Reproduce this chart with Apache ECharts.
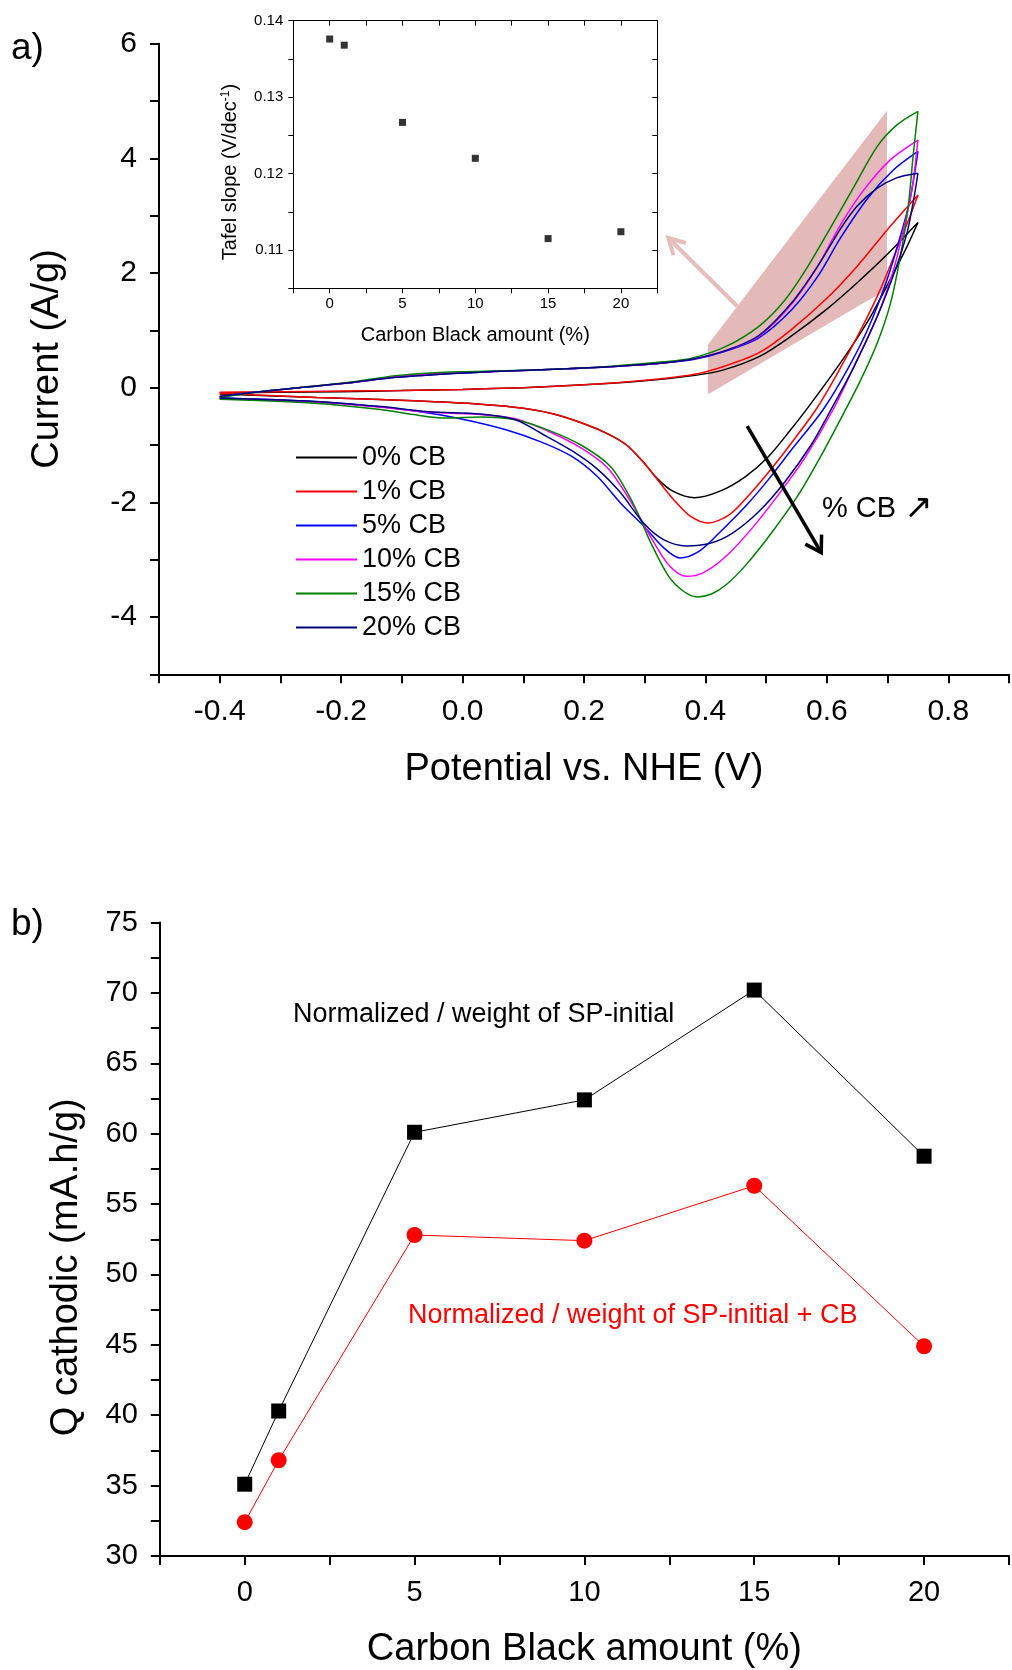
<!DOCTYPE html>
<html><head><meta charset="utf-8">
<script src="https://cdn.jsdelivr.net/npm/echarts@6.0.0/dist/echarts.min.js"></script>
<style>html,body{margin:0;padding:0;background:#fff;}#c{width:1012px;height:1670px;}</style>
</head><body><div id="c"></div>
<script>
// ---------- Panel a: CV curves (potential V, current A/g) ----------
const seriesNames = ['0% CB','1% CB','5% CB','10% CB','15% CB','20% CB'];
const seriesColors = ['#000000','#ff0000','#0000ff','#ff00ff','#008000','#000080'];

const cb0Fwd = [[-0.40,-0.09],[-0.30,-0.08],[-0.20,-0.07],[-0.10,-0.05],[0.00,-0.03],[0.10,0.00],[0.20,0.05],[0.30,0.12],[0.38,0.21],[0.43,0.31],[0.49,0.55],[0.54,0.89],[0.60,1.37],[0.65,1.83],[0.70,2.33],[0.75,2.88]];
const cb0Rev = [[0.75,2.88],[0.732,2.46],[0.704,1.88],[0.672,1.24],[0.634,0.61],[0.60,0.10],[0.57,-0.33],[0.54,-0.74],[0.504,-1.20],[0.466,-1.55],[0.423,-1.81],[0.382,-1.92],[0.347,-1.81],[0.322,-1.60],[0.298,-1.30],[0.27,-1.00],[0.24,-0.81],[0.20,-0.63],[0.15,-0.46],[0.10,-0.36],[0.03,-0.29],[-0.08,-0.23],[-0.24,-0.17],[-0.40,-0.11]];

const cb1Fwd = [[-0.40,-0.08],[-0.30,-0.07],[-0.20,-0.06],[-0.10,-0.05],[0.00,-0.03],[0.10,0.00],[0.20,0.05],[0.30,0.13],[0.38,0.23],[0.43,0.37],[0.49,0.62],[0.54,1.00],[0.60,1.56],[0.65,2.12],[0.70,2.76],[0.75,3.36]];
const cb1Rev = [[0.75,3.36],[0.737,2.99],[0.715,2.41],[0.688,1.71],[0.656,1.01],[0.62,0.30],[0.584,-0.35],[0.542,-0.96],[0.509,-1.41],[0.477,-1.81],[0.439,-2.22],[0.404,-2.36],[0.375,-2.24],[0.35,-1.98],[0.325,-1.66],[0.298,-1.30],[0.27,-1.00],[0.24,-0.81],[0.20,-0.63],[0.15,-0.46],[0.10,-0.36],[0.03,-0.29],[-0.08,-0.23],[-0.24,-0.17],[-0.40,-0.10]];

const cb5Fwd = [[-0.40,-0.16],[-0.35,-0.09],[-0.27,0.00],[-0.19,0.08],[-0.11,0.18],[-0.03,0.24],[0.05,0.28],[0.17,0.33],[0.25,0.37],[0.33,0.43],[0.38,0.49],[0.434,0.64],[0.488,0.87],[0.542,1.36],[0.585,1.94],[0.623,2.62],[0.667,3.30],[0.71,3.80],[0.75,4.12]];
const cb5Rev = [[0.75,4.12],[0.737,3.28],[0.721,2.64],[0.699,1.88],[0.667,1.01],[0.634,0.32],[0.594,-0.38],[0.542,-1.08],[0.504,-1.60],[0.466,-2.07],[0.423,-2.53],[0.39,-2.85],[0.358,-2.97],[0.331,-2.79],[0.298,-2.41],[0.26,-2.01],[0.222,-1.55],[0.18,-1.20],[0.13,-0.95],[0.07,-0.73],[0.00,-0.55],[-0.07,-0.42],[-0.14,-0.33],[-0.244,-0.24],[-0.40,-0.18]];

const cb10Fwd = [[-0.40,-0.16],[-0.35,-0.09],[-0.27,0.00],[-0.19,0.08],[-0.11,0.19],[-0.03,0.25],[0.05,0.28],[0.17,0.33],[0.25,0.37],[0.33,0.43],[0.38,0.50],[0.434,0.65],[0.488,0.90],[0.542,1.46],[0.585,2.12],[0.623,2.85],[0.661,3.45],[0.704,3.97],[0.75,4.32]];
const cb10Rev = [[0.75,4.32],[0.74,3.45],[0.726,2.75],[0.71,2.06],[0.683,1.24],[0.65,0.49],[0.612,-0.35],[0.564,-1.22],[0.52,-1.87],[0.477,-2.45],[0.434,-2.94],[0.396,-3.23],[0.369,-3.29],[0.341,-3.11],[0.314,-2.68],[0.276,-1.97],[0.239,-1.40],[0.195,-1.05],[0.141,-0.76],[0.087,-0.54],[0.03,-0.47],[-0.054,-0.43],[-0.135,-0.34],[-0.244,-0.25],[-0.40,-0.19]];

const cb15Fwd = [[-0.40,-0.18],[-0.35,-0.09],[-0.27,0.00],[-0.19,0.09],[-0.11,0.21],[-0.03,0.27],[0.05,0.29],[0.17,0.33],[0.25,0.38],[0.33,0.45],[0.379,0.52],[0.434,0.72],[0.488,1.07],[0.531,1.53],[0.569,2.12],[0.607,2.81],[0.645,3.51],[0.683,4.21],[0.715,4.58],[0.75,4.82]];
const cb15Rev = [[0.75,4.82],[0.742,4.03],[0.734,3.16],[0.721,2.29],[0.705,1.48],[0.683,0.78],[0.656,0.14],[0.631,-0.38],[0.596,-1.08],[0.553,-1.87],[0.509,-2.53],[0.466,-3.10],[0.435,-3.43],[0.41,-3.60],[0.387,-3.65],[0.365,-3.56],[0.34,-3.30],[0.312,-2.75],[0.28,-2.00],[0.244,-1.38],[0.195,-1.00],[0.141,-0.74],[0.087,-0.56],[0.03,-0.51],[-0.027,-0.53],[-0.081,-0.47],[-0.135,-0.38],[-0.244,-0.27],[-0.40,-0.20]];

const cb20Fwd = [[-0.40,-0.15],[-0.35,-0.09],[-0.27,0.00],[-0.19,0.08],[-0.11,0.18],[-0.03,0.24],[0.05,0.28],[0.17,0.33],[0.25,0.37],[0.33,0.43],[0.38,0.50],[0.434,0.65],[0.488,0.91],[0.542,1.48],[0.585,2.12],[0.623,2.78],[0.65,3.17],[0.683,3.48],[0.715,3.66],[0.75,3.74]];
const cb20Rev = [[0.75,3.74],[0.743,3.28],[0.732,2.70],[0.713,2.06],[0.683,1.24],[0.645,0.37],[0.607,-0.38],[0.574,-1.00],[0.531,-1.64],[0.488,-2.16],[0.444,-2.54],[0.406,-2.72],[0.369,-2.76],[0.331,-2.65],[0.298,-2.36],[0.26,-1.83],[0.222,-1.42],[0.18,-1.10],[0.13,-0.80],[0.087,-0.56],[0.03,-0.46],[-0.054,-0.42],[-0.135,-0.33],[-0.244,-0.24],[-0.40,-0.18]];

const forwardSweeps = [cb0Fwd, cb1Fwd, cb5Fwd, cb10Fwd, cb15Fwd, cb20Fwd];
const reverseSweeps = [cb0Rev, cb1Rev, cb5Rev, cb10Rev, cb15Rev, cb20Rev];

// highlighted region (potential, current)
const pinkX = [0.404, 0.699, 0.699, 0.661, 0.404];
const pinkY = [0.75, 4.83, 1.71, 1.48, -0.12];
// arrows [x1, y1, x2, y2] in data units
const pinkArrow = [0.4525, 1.42, 0.339, 2.61];
const cbArrow = [0.4688, -0.672, 0.5907, -2.878];

// ---------- Inset: Tafel slope ----------
const tafelCB = [0, 1, 5, 10, 15, 20];
const tafelSlope = [0.1376, 0.1368, 0.1267, 0.1220, 0.1115, 0.1124];

// ---------- Panel b: Q cathodic ----------
const cbAmount = [0, 1, 5, 10, 15, 20];
const qSP = [35.1, 40.3, 60.1, 62.4, 70.2, 58.4];
const qSPCB = [32.4, 36.8, 52.8, 52.4, 56.3, 44.9];

const FF = "'Liberation Sans', Arial, 'DejaVu Sans', sans-serif";

function fmtMainX(v){ const k = Math.round(v*10); return (k % 2 === 0 && k >= -4 && k <= 8) ? (k/10).toFixed(1) : ''; }
function fmtMainY(v){ const k = Math.round(v); return (k % 2 === 0 && k >= -4) ? String(k) : ''; }
function fmtCB(v){ const k = Math.round(v*10); return (k % 50 === 0 && k >= 0 && k <= 200) ? String(k/10) : ''; }
function fmtTafel(v){ const k = Math.round(v*1000); return (k % 10 === 0) ? (k/1000).toFixed(2) : ''; }
function fmtQ(v){ const k = Math.round(v*10); return (k % 50 === 0) ? String(k/10) : ''; }

function arrowRender(color, width, head, half){
  return function(params, api){
    const p1 = api.coord([api.value(0), api.value(1)]);
    const p2 = api.coord([api.value(2), api.value(3)]);
    const ang = Math.atan2(p2[1]-p1[1], p2[0]-p1[0]);
    const a1 = ang + Math.PI - half, a2 = ang + Math.PI + half;
    const h1 = [p2[0]+head*Math.cos(a1), p2[1]+head*Math.sin(a1)];
    const h2 = [p2[0]+head*Math.cos(a2), p2[1]+head*Math.sin(a2)];
    return {type:'group', children:[
      {type:'line', shape:{x1:p1[0],y1:p1[1],x2:p2[0],y2:p2[1]}, style:{stroke:color, lineWidth:width}},
      {type:'polyline', shape:{points:[h1,p2,h2]}, style:{stroke:color, lineWidth:width, fill:null}}
    ]};
  };
}

const series = [];
series.push({
  type:'custom', xAxisIndex:0, yAxisIndex:0, z:1, silent:true,
  data:[[pinkX[0], pinkY[0]]],
  renderItem:function(params, api){
    const pts = pinkX.map((x,i)=>api.coord([x, pinkY[i]]));
    return {type:'polygon', shape:{points:pts}, style:{fill:'#e4b9b9'}};
  }
});
series.push({
  type:'custom', xAxisIndex:0, yAxisIndex:0, z:2, silent:true,
  data:[pinkArrow], encode:{x:[0,2], y:[1,3]},
  renderItem: arrowRender('#e6bcbc', 4, 18, 0.5)
});
seriesNames.forEach((nm, i) => {
  [forwardSweeps[i], reverseSweeps[i]].forEach(arr => {
    series.push({
      name:nm, type:'line', xAxisIndex:0, yAxisIndex:0, z:3,
      data:arr, smooth:0.3, symbol:'none',
      lineStyle:{color:seriesColors[i], width:1.5},
      itemStyle:{color:seriesColors[i]}
    });
  });
});
series.push({
  type:'custom', xAxisIndex:0, yAxisIndex:0, z:4, silent:true,
  data:[cbArrow], encode:{x:[0,2], y:[1,3]},
  renderItem: arrowRender('#000000', 3.5, 18, 0.55)
});
series.push({
  type:'scatter', xAxisIndex:1, yAxisIndex:1, symbol:'rect', symbolSize:7,
  itemStyle:{color:'#000'}, data: tafelCB.map((x,i)=>[x, tafelSlope[i]]), z:5
});
series.push({
  name:'Normalized / weight of SP-initial', type:'line', xAxisIndex:3, yAxisIndex:3,
  data: cbAmount.map((x,i)=>[x, qSP[i]]), symbol:'rect', symbolSize:15,
  lineStyle:{color:'#000', width:1}, itemStyle:{color:'#000'}
});
series.push({
  name:'Normalized / weight of SP-initial + CB', type:'line', xAxisIndex:3, yAxisIndex:3,
  data: cbAmount.map((x,i)=>[x, qSPCB[i]]), symbol:'circle', symbolSize:16,
  lineStyle:{color:'#ff0000', width:1}, itemStyle:{color:'#ff0000'}
});

const option = {
  animation:false,
  backgroundColor:'#fff',
  textStyle:{fontFamily:FF},
  grid:[
    {left:159, top:43.7, width:861.3, height:630.6},
    {left:293.3, top:20.7, width:364, height:267.6},
    {left:159.8, top:922.5, width:861.75, height:635}
  ],
  legend:{
    data:seriesNames, orient:'vertical', left:296, top:444, padding:0, icon:'rect',
    itemWidth:61, itemHeight:2, itemGap:7, selectedMode:false,
    textStyle:{fontSize:27, color:'#000', fontFamily:FF}
  },
  xAxis:[
    {gridIndex:0, type:'value', min:-0.5, max:0.9, interval:0.1,
     axisLine:{onZero:false, lineStyle:{color:'#000', width:2}},
     axisTick:{length:9, lineStyle:{color:'#000', width:2}},
     axisLabel:{formatter:fmtMainX, fontSize:30, color:'#000', margin:22, fontFamily:FF},
     splitLine:{show:false},
     name:'Potential vs. NHE (V)', nameLocation:'middle', nameGap:76,
     nameTextStyle:{fontSize:38, color:'#000', fontFamily:FF}},
    {gridIndex:1, type:'value', min:-2.5, max:22.5, interval:2.5,
     axisLine:{onZero:false, lineStyle:{color:'#000', width:1}},
     axisTick:{length:5, lineStyle:{color:'#000', width:1}},
     axisLabel:{formatter:fmtCB, fontSize:15, color:'#000', margin:8, fontFamily:FF},
     splitLine:{show:false},
     name:'Carbon Black amount (%)', nameLocation:'middle', nameGap:37,
     nameTextStyle:{fontSize:20, color:'#000', fontFamily:FF}},
    {gridIndex:1, type:'value', position:'top', min:-2.5, max:22.5, interval:2.5,
     axisLine:{onZero:false, lineStyle:{color:'#000', width:1}},
     axisTick:{inside:true, length:5, lineStyle:{color:'#000', width:1}},
     axisLabel:{show:false}, splitLine:{show:false}},
    {gridIndex:2, type:'value', min:-2.5, max:22.5, interval:2.5,
     axisLine:{onZero:false, lineStyle:{color:'#000', width:2}},
     axisTick:{length:9, lineStyle:{color:'#000', width:2}},
     axisLabel:{formatter:fmtCB, fontSize:29, color:'#000', margin:22, fontFamily:FF},
     splitLine:{show:false},
     name:'Carbon Black amount (%)', nameLocation:'middle', nameGap:75,
     nameTextStyle:{fontSize:38, color:'#000', fontFamily:FF}}
  ],
  yAxis:[
    {gridIndex:0, type:'value', min:-5, max:6, interval:1,
     axisLine:{onZero:false, lineStyle:{color:'#000', width:2}},
     axisTick:{length:9, lineStyle:{color:'#000', width:2}},
     axisLabel:{formatter:fmtMainY, fontSize:30, color:'#000', margin:22, fontFamily:FF},
     splitLine:{show:false},
     name:'Current (A/g)', nameLocation:'middle', nameGap:92,
     nameTextStyle:{fontSize:38, color:'#000', fontFamily:FF}},
    {gridIndex:1, type:'value', min:0.105, max:0.14, interval:0.005,
     axisLine:{onZero:false, lineStyle:{color:'#000', width:1}},
     axisTick:{length:5, lineStyle:{color:'#000', width:1}},
     axisLabel:{formatter:fmtTafel, fontSize:15, color:'#000', margin:10, fontFamily:FF},
     splitLine:{show:false},
     name:'{a|Tafel slope (V/dec}{s|-1}{a|)}', nameLocation:'middle', nameGap:52,
     nameTextStyle:{padding:[0,35,0,0], rich:{
       a:{fontSize:20, color:'#000', fontFamily:FF},
       s:{fontSize:12, color:'#000', fontFamily:FF, verticalAlign:'top', padding:[0,0,10,0]}
     }}},
    {gridIndex:1, type:'value', position:'right', min:0.105, max:0.14, interval:0.005,
     axisLine:{onZero:false, lineStyle:{color:'#000', width:1}},
     axisTick:{inside:true, length:5, lineStyle:{color:'#000', width:1}},
     axisLabel:{show:false}, splitLine:{show:false}},
    {gridIndex:2, type:'value', min:30, max:75, interval:2.5,
     axisLine:{onZero:false, lineStyle:{color:'#000', width:2}},
     axisTick:{length:9, lineStyle:{color:'#000', width:2}},
     axisLabel:{formatter:fmtQ, fontSize:29, color:'#000', margin:22, fontFamily:FF},
     splitLine:{show:false},
     name:'Q cathodic (mA.h/g)', nameLocation:'middle', nameGap:74,
     nameTextStyle:{fontSize:38, color:'#000', fontFamily:FF, padding:[0,56,0,0]}}
  ],
  graphic:[
    {type:'text', x:11, y:49, z:10, style:{text:'a)', font:'37px '+FF, fill:'#000', verticalAlign:'middle'}},
    {type:'text', x:11, y:925, z:10, style:{text:'b)', font:'37px '+FF, fill:'#000', verticalAlign:'middle'}},
    {type:'text', x:822, y:509, z:10, style:{
      text:'{a|% CB }{b|\u2197}', fill:'#000', verticalAlign:'middle',
      rich:{a:{fontSize:29, fontFamily:FF, fill:'#000'}, b:{fontSize:34, fontFamily:"'DejaVu Sans', sans-serif", fill:'#000'}}
    }},
    {type:'text', x:293, y:1015, z:10, style:{text:'Normalized / weight of SP-initial', font:'27px '+FF, fill:'#000', verticalAlign:'middle'}},
    {type:'text', x:408, y:1316, z:10, style:{text:'Normalized / weight of SP-initial + CB', font:'27px '+FF, fill:'#ff0000', verticalAlign:'middle'}}
  ],
  series:series
};
const chart = echarts.init(document.getElementById('c'), null, {renderer:'canvas'});
chart.setOption(option);
</script></body></html>
